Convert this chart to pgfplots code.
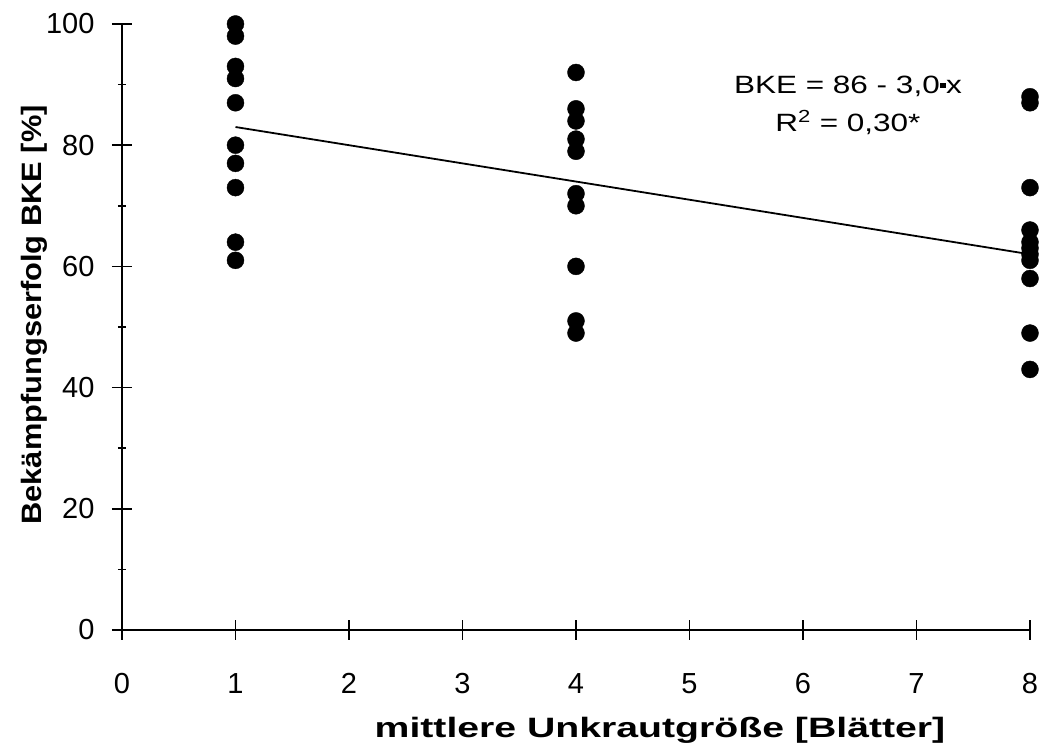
\documentclass[border=0pt]{standalone}
\usepackage{graphicx}
\usepackage{pgfplots}
\pgfplotsset{compat=1.18}
\usepackage{fontspec}
\setmainfont{Liberation Sans}
\newcommand\tickfont{\fontsize{29}{34}\selectfont}
\newcommand\annfont{\fontsize{25}{30}\selectfont}
\newcommand\lblfont{\fontsize{28}{33}\selectfont}
\begin{document}
\begin{tikzpicture}
\useasboundingbox (-122pt,-116pt) rectangle (920pt,630pt);
\begin{axis}[
  at={(0pt,0pt)}, anchor=origin,
  scale only axis,
  width=908pt, height=606pt,
  xmin=0, xmax=8, ymin=0, ymax=100,
  axis x line=bottom, axis y line=left,
  axis line style={line width=2pt, -},
  xtick={0,1,...,8},
  ytick={0,20,...,100},
  minor ytick={10,30,...,90},
  /pgf/number format/assume math mode=true,
  tick label style={font=\tickfont},
  major tick length=20pt,
  minor tick length=8pt,
  tick style={line width=1.6pt, black},
  major tick style={/pgfplots/tick align=center},
  minor tick style={/pgfplots/tick align=outside},
  xticklabel style={anchor=base, yshift=-54pt},
  yticklabel style={anchor=east, xshift=-14pt},
  xlabel={\scalebox{1.4}[1]{\textbf{mittlere Unkrautgröße [Blätter]}}},
  ylabel={\scalebox{1.1}[1]{\textbf{Bekämpfungserfolg BKE [\%]}}},
  xlabel style={font=\lblfont, at={([yshift=-108pt]axis description cs:0.5925,0)}, anchor=base},
  ylabel style={font=\lblfont, at={([xshift=-80pt]axis description cs:0,0.52)}, anchor=base},
  clip=false,
]
% measured efficacy per weed size class
\addplot[only marks, mark=*, mark size=8.5pt, black] coordinates {
  (1,100) (1,98) (1,93) (1,91) (1,87) (1,80) (1,77) (1,73) (1,64) (1,61)
  (4,92) (4,86) (4,84) (4,81) (4,79) (4,72) (4,70) (4,60) (4,51) (4,49)
  (8,88) (8,87) (8,73) (8,66) (8,64) (8,63) (8,62) (8,61) (8,58) (8,49) (8,43)
};
% fitted regression line BKE = 86 - 3.0x
\addplot[black, line width=1.8pt] coordinates {(1,83) (8,62)};
\node[anchor=base, font=\annfont] at (axis cs:6.396,88.6)
  {\scalebox{1.26}[1]{BKE = 86 - 3,0\raisebox{0.22em}{\rule{0.2em}{0.2em}}x}};
\node[anchor=base, font=\annfont] at (axis cs:6.396,82.2)
  {\scalebox{1.26}[1]{R\textsuperscript{2} = 0,30*}};
\end{axis}
\end{tikzpicture}
\end{document}
